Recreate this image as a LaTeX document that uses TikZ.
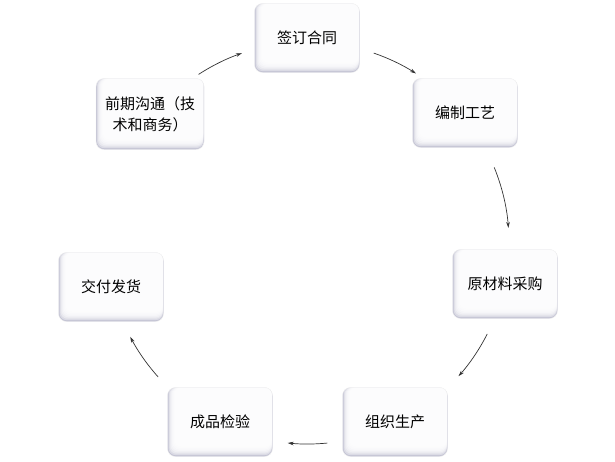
\documentclass[tikz,border=0pt]{standalone}
\usepackage{fontspec}
\newfontfamily\cjk{Noto Sans CJK SC}
\usetikzlibrary{arrows.meta,calc}
\definecolor{cardgrey}{RGB}{196,196,212}
\tikzset{
  card/.style={rounded corners=8pt,minimum width=105pt,minimum height=69pt,
    fill=cardgrey,draw=gray!10,line width=0.4pt,align=center,inner sep=2pt,
    font=\cjk\fontsize{15}{21}\selectfont,
    path picture={
      \foreach \k in {1,...,7}
        {\fill[white,opacity=0.4,rounded corners=7pt]
          ($(path picture bounding box.south west)+(\k*1pt,\k*1.4pt)$)
          rectangle ($(path picture bounding box.north east)+(-0.6pt,0pt)$);}
    }},
  flow/.style={line width=0.7pt,draw=black!80,-{Stealth[length=6pt,width=3.6pt]}}
}
\begin{document}
\begin{tikzpicture}[x=1pt,y=-1pt]
  \useasboundingbox (0,0) rectangle (615,461);
  \fill[white] (0,0) rectangle (615,461);
  \def\r{201}
  \coordinate (c) at (308,243);
  \node[card] (n1) at (307,38) {签订合同};
  \node[card] (n2) at (465,113) {编制工艺};
  \node[card] (n3) at (505,284) {原材料采购};
  \node[card] (n4) at (395,422) {组织生产};
  \node[card] (n5) at (220,422) {成品检验};
  \node[card] (n6) at (111,287) {交付发货};
  \node[card,minimum width=108pt,minimum height=71pt] (n7) at (150,114)
    {前期沟通（技\\术和商务）};
  % arcs round the centre c
  \foreach \a/\b in {123/109.2,70.9/57.5,22.1/4.3,-26.9/-41.5,-84.5/-95.8,-138.2/-152.2}
    {\draw[flow] ([shift={(\a:\r pt)}]c)
        arc[start angle=\a,end angle=\b,radius=\r pt];}
\end{tikzpicture}
\end{document}
